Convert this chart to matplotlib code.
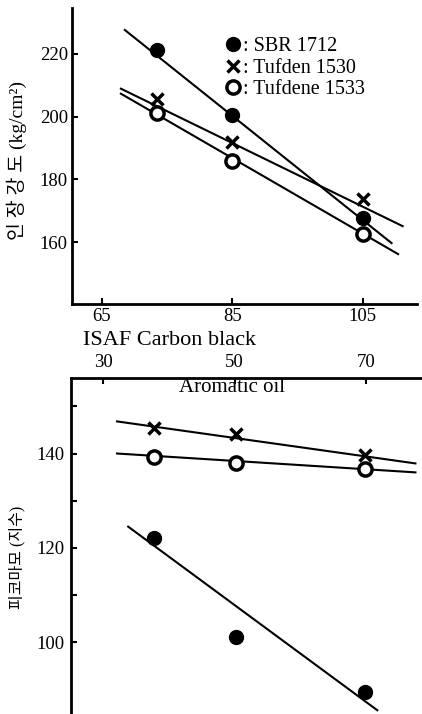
import matplotlib.pyplot as plt
from matplotlib.ticker import FixedLocator

# --- top panel: tensile strength vs ISAF carbon black ---
carbon_black = [73.5, 85, 105]
sbr_tensile = [221.3, 200.6, 167.6]
tufden_tensile = [205.7, 192.0, 173.6]
tufdene_tensile = [201.3, 185.7, 162.5]

# hand-drawn fit lines (end points)
sbr_fit_x = [68.5, 109.4]
sbr_fit_y = [227.6, 159.7]
tufden_fit_x = [67.9, 111.1]
tufden_fit_y = [208.9, 165.1]
tufdene_fit_x = [67.9, 110.4]
tufdene_fit_y = [207.3, 156.2]

# --- bottom panel: pico abrasion index vs aromatic oil ---
aromatic_oil = [37.7, 50.2, 69.8]
sbr_abrasion = [122.2, 101.1, 89.4]
tufden_abrasion = [145.5, 144.2, 139.6]
tufdene_abrasion = [139.2, 137.9, 136.8]

sbr_abr_fit_x = [33.8, 71.7]
sbr_abr_fit_y = [124.5, 85.6]
tufden_abr_fit_x = [32.1, 77.5]
tufden_abr_fit_y = [146.8, 137.9]
tufdene_abr_fit_x = [32.1, 77.5]
tufdene_abr_fit_y = [140.0, 136.0]

legend_labels = [': SBR 1712', ': Tufden 1530', ': Tufdene 1533']

serif = ['Liberation Serif', 'Noto Sans CJK KR', 'DejaVu Sans']
plt.rcParams['font.family'] = serif
plt.rcParams['font.size'] = 13

fig = plt.figure(figsize=(4.22, 7.14), dpi=100)
W, H = 422, 714
ax1 = fig.add_axes([72 / W, 1 - 304 / H, 345 / W, 296 / H])
ax2 = fig.add_axes([71 / W, 0, 351 / W, 1 - 378 / H])

line_kw = dict(color='black', lw=1.5)
dot_kw = dict(ls='none', marker='o', ms=10, color='black')
x_kw = dict(ls='none', marker='x', ms=9, mew=2.5, color='black')
ring_kw = dict(ls='none', marker='o', ms=9.5, mfc='white', mec='black', mew=2.5)

# top panel
ax1.plot(sbr_fit_x, sbr_fit_y, **line_kw)
ax1.plot(tufden_fit_x, tufden_fit_y, **line_kw)
ax1.plot(tufdene_fit_x, tufdene_fit_y, **line_kw)
h1, = ax1.plot(carbon_black, sbr_tensile, **dot_kw)
h2, = ax1.plot(carbon_black, tufden_tensile, **x_kw)
h3, = ax1.plot(carbon_black, tufdene_tensile, **ring_kw)

ax1.set_xlim(60.4, 113.3)
ax1.set_ylim(140.3, 234.6)
ax1.set_xticks([65, 85, 105])
ax1.set_yticks([160, 180, 200, 220])
ax1.spines[['top', 'right']].set_visible(False)
ax1.spines[['left', 'bottom']].set_linewidth(2)
ax1.tick_params(direction='in', length=4, width=1.5, pad=3, labelsize=13.5)
ax1.set_xlabel('ISAF Carbon black', fontsize=16)
ax1.xaxis.set_label_coords(0.284, -0.09)
ax1.set_ylabel('인 장 강 도 (kg/cm²)', fontsize=14, va='center')
ax1.yaxis.set_label_coords(-0.159, 0.486)

ax1.legend([h1, h2, h3], legend_labels, loc='upper left',
           bbox_to_anchor=(0.415, 0.935), frameon=False, handlelength=0.8,
           handletextpad=0.1, labelspacing=0.12, borderpad=0, fontsize=14.5)

# bottom panel
ax2.plot(sbr_abr_fit_x, sbr_abr_fit_y, **line_kw)
ax2.plot(tufden_abr_fit_x, tufden_abr_fit_y, **line_kw)
ax2.plot(tufdene_abr_fit_x, tufdene_abr_fit_y, **line_kw)
ax2.plot(aromatic_oil, sbr_abrasion, **dot_kw)
ax2.plot(aromatic_oil, tufden_abrasion, **x_kw)
ax2.plot(aromatic_oil, tufdene_abrasion, **ring_kw)

ax2.set_xlim(25.1, 78.5)
ax2.set_ylim(84.8, 156)
ax2.set_xticks([30, 50, 70])
ax2.set_yticks([100, 120, 140])
ax2.yaxis.set_minor_locator(FixedLocator([110, 130, 150]))
ax2.xaxis.tick_top()
ax2.xaxis.set_label_position('top')
ax2.spines[['bottom', 'right']].set_visible(False)
ax2.spines[['left', 'top']].set_linewidth(2)
ax2.tick_params(direction='in', length=4, width=1.5, pad=5, labelsize=13.5)
ax2.tick_params(which='minor', direction='in', length=4, width=1.5)
ax2.set_xlabel('Aromatic oil', fontsize=15, va='center')
ax2.xaxis.set_label_coords(0.46, 1 - 9 / 336)
ax2.set_ylabel('피코마모 (지수)', fontsize=11.5, va='center')
ax2.yaxis.set_label_coords(-0.154, 0.467)

fig.savefig('out.png', dpi=100)
